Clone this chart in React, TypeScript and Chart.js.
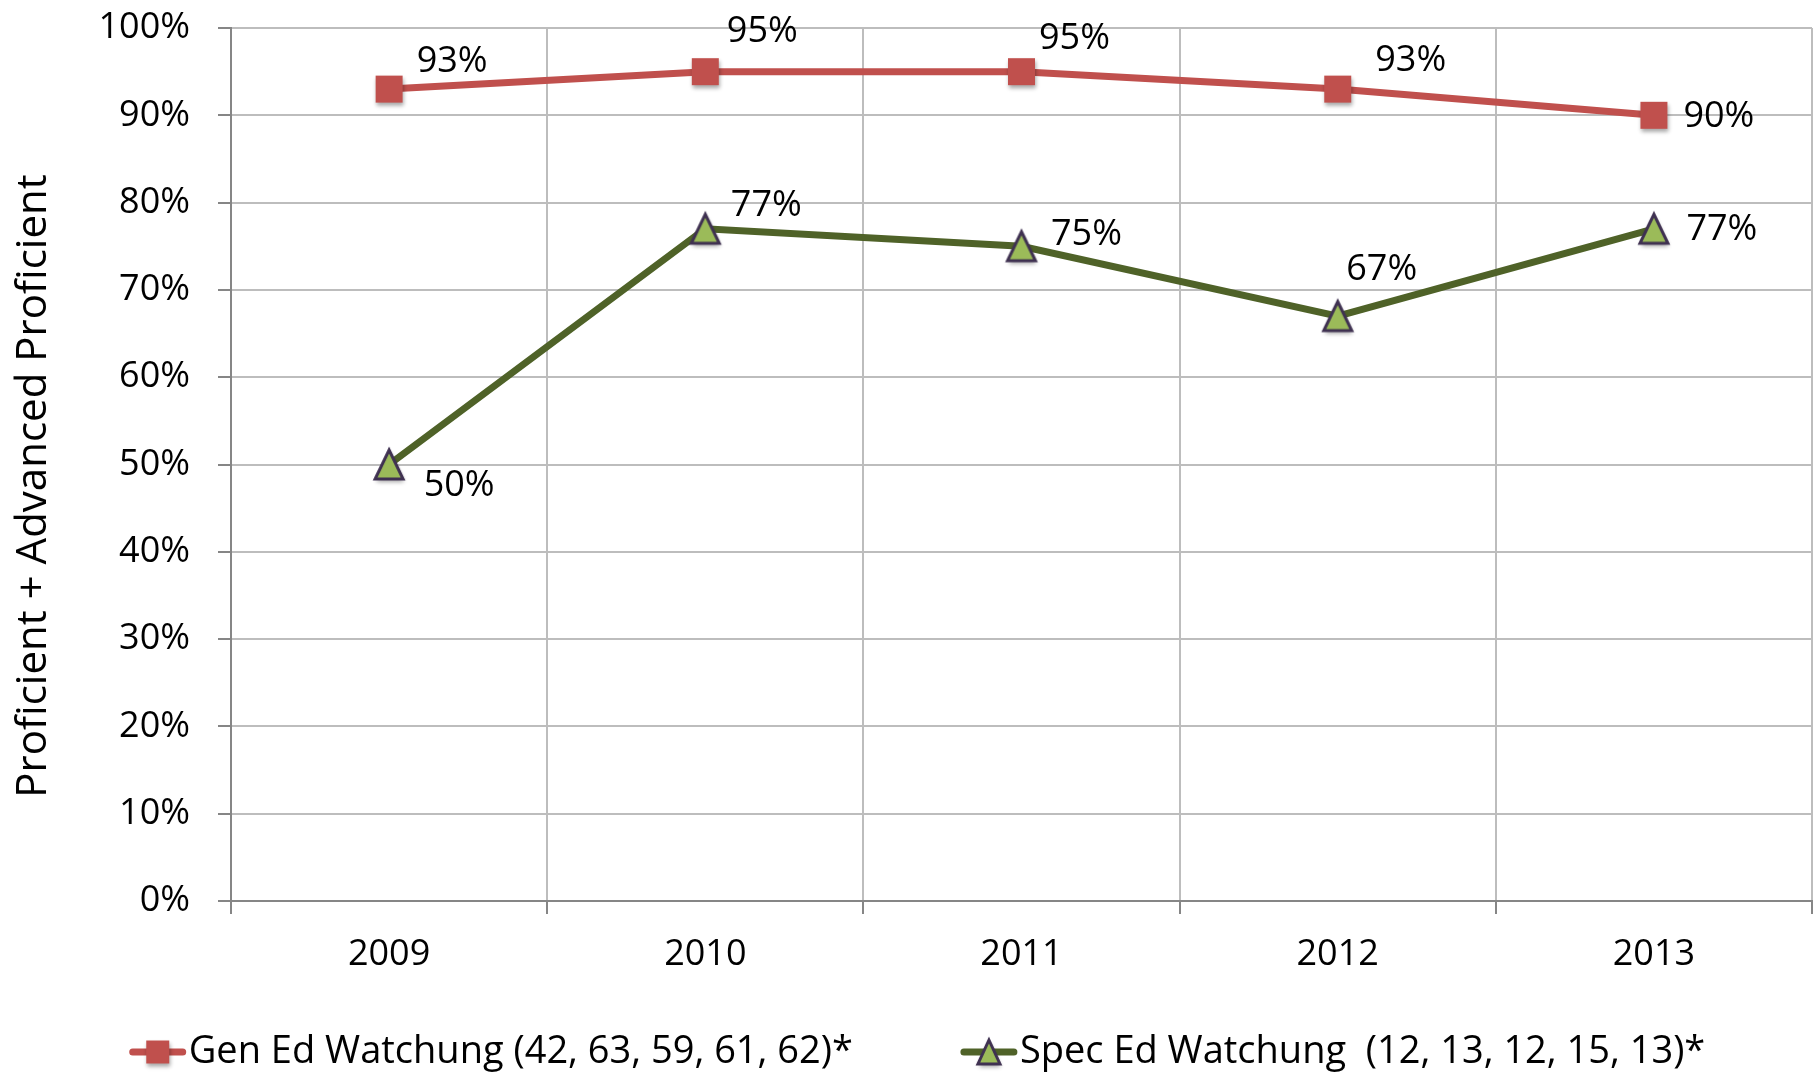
import React, { useEffect, useRef } from 'react';
import { Chart, registerables } from 'chart.js';

Chart.register(...registerables);

// ---- Data ----
const years = ['2009', '2010', '2011', '2012', '2013'];
const genEdValues = [93, 95, 95, 93, 90];
const specEdValues = [50, 77, 75, 67, 77];
const genEdName = 'Gen Ed Watchung (42, 63, 59, 61, 62)*';
const specEdName = 'Spec Ed Watchung  (12, 13, 12, 15, 13)*';
const yAxisTitle = 'Proficient + Advanced Proficient';
const yMin = 0;
const yMax = 100;
const yStep = 10;

// ---- Label placement (pixel offsets from each point) ----
const genEdLabelOffsets = [[63, -27], [57, -40], [53, -33], [73, -28], [65, 1]];
const specEdLabelOffsets = [[70, 21], [61, -23], [65, -12], [44, -46], [68, 1]];

// ---- Styles ----
const FONT = '"Open Sans", "DejaVu Sans", sans-serif';
const RED = '#C0504D';
const GREEN_LINE = '#4F6228';
const GREEN_FILL = '#9BBB59';
const PURPLE = '#3F3151';
const GRID = '#BDBDBD';
const AXIS = '#868686';

function makeSquare(side: number): HTMLCanvasElement {
  const pad = 8;
  const c = document.createElement('canvas');
  c.width = side + pad * 2;
  c.height = side + pad * 2;
  const g = c.getContext('2d')!;
  g.shadowColor = 'rgba(0,0,0,0.35)';
  g.shadowBlur = 4;
  g.shadowOffsetX = 1;
  g.shadowOffsetY = 3;
  g.fillStyle = RED;
  g.fillRect(pad, pad, side, side);
  return c;
}

function makeTriangle(w: number, h: number): HTMLCanvasElement {
  const pad = 8;
  const c = document.createElement('canvas');
  c.width = w + pad * 2;
  c.height = h + pad * 2;
  const g = c.getContext('2d')!;
  g.shadowColor = 'rgba(0,0,0,0.35)';
  g.shadowBlur = 4;
  g.shadowOffsetX = 1;
  g.shadowOffsetY = 3;
  g.beginPath();
  g.moveTo(pad + w / 2, pad);
  g.lineTo(pad + w, pad + h);
  g.lineTo(pad, pad + h);
  g.closePath();
  g.fillStyle = GREEN_FILL;
  g.fill();
  g.shadowColor = 'transparent';
  g.lineWidth = 3;
  g.lineJoin = 'miter';
  g.strokeStyle = PURPLE;
  g.stroke();
  return c;
}

export default function App() {
  const ref = useRef<HTMLCanvasElement | null>(null);

  useEffect(() => {
    if (!ref.current) return;
    const square = makeSquare(27);
    const triangle = makeTriangle(28, 29);
    const squareSmall = makeSquare(23);
    const triangleSmall = makeTriangle(22, 24);

    const offsetsByDataset = [genEdLabelOffsets, specEdLabelOffsets];

    const dataLabels = {
      id: 'dataLabels',
      afterDatasetsDraw(chart: any) {
        const ctx = chart.ctx;
        ctx.save();
        ctx.font = `36px ${FONT}`;
        ctx.fillStyle = '#000';
        ctx.textAlign = 'center';
        ctx.textBaseline = 'middle';
        chart.data.datasets.forEach((ds: any, i: number) => {
          const meta = chart.getDatasetMeta(i);
          const offs = offsetsByDataset[i];
          meta.data.forEach((pt: any, j: number) => {
            ctx.fillText(ds.data[j] + '%', pt.x + offs[j][0], pt.y + offs[j][1]);
          });
        });
        ctx.restore();
      },
    };

    const yTitle = {
      id: 'yTitle',
      afterDraw(chart: any) {
        const ctx = chart.ctx;
        ctx.save();
        ctx.font = `42px ${FONT}`;
        ctx.fillStyle = '#000';
        ctx.textAlign = 'center';
        ctx.textBaseline = 'middle';
        ctx.translate(34, 486);
        ctx.rotate(-Math.PI / 2);
        ctx.fillText(yAxisTitle, 0, 0);
        ctx.restore();
      },
    };

    const legend = {
      id: 'customLegend',
      afterDraw(chart: any) {
        const ctx = chart.ctx;
        ctx.save();
        ctx.font = `38px ${FONT}`;
        ctx.textBaseline = 'middle';
        ctx.textAlign = 'left';
        const y = 1052;
        const markerW = 58;
        const gapText = 2;
        const gapItems = 107;
        const items = [
          { name: genEdName, color: RED, img: squareSmall },
          { name: specEdName, color: GREEN_LINE, img: triangleSmall },
        ];
        const widths = items.map((it) => ctx.measureText(it.name).width);
        const total = items.length * (markerW + gapText) + widths[0] + widths[1] + gapItems;
        let x = (chart.width - total) / 2 + 8;
        items.forEach((it, i) => {
          ctx.strokeStyle = it.color;
          ctx.lineWidth = 7;
          ctx.lineCap = 'round';
          ctx.beginPath();
          ctx.moveTo(x + 4, y);
          ctx.lineTo(x + markerW - 4, y);
          ctx.stroke();
          ctx.drawImage(it.img, x + markerW / 2 - it.img.width / 2, y - it.img.height / 2);
          ctx.fillStyle = '#000';
          ctx.fillText(it.name, x + markerW + gapText, y);
          x += markerW + gapText + widths[i] + gapItems;
        });
        ctx.restore();
      },
    };

    const chart = new Chart(ref.current, {
      type: 'line',
      data: {
        labels: years,
        datasets: [
          {
            label: genEdName,
            data: genEdValues,
            borderColor: RED,
            backgroundColor: RED,
            borderWidth: 7,
            pointStyle: square as any,
            pointRadius: 2,
            pointHitRadius: 0,
            tension: 0,
            clip: false as any,
          },
          {
            label: specEdName,
            data: specEdValues,
            borderColor: GREEN_LINE,
            backgroundColor: GREEN_FILL,
            borderWidth: 7,
            pointStyle: triangle as any,
            pointRadius: 2,
            pointHitRadius: 0,
            tension: 0,
            clip: false as any,
          },
        ],
      },
      options: {
        animation: false,
        responsive: true,
        maintainAspectRatio: false,
        layout: { autoPadding: false, padding: { top: 28, right: 6, left: 0, bottom: 0 } },
        plugins: {
          legend: { display: false },
          tooltip: { enabled: false },
        },
        scales: {
          x: {
            offset: true,
            grid: { offset: true, color: GRID, lineWidth: 2, tickLength: 13, tickColor: AXIS, tickWidth: 2 },
            border: { color: AXIS, width: 2 },
            ticks: { font: { family: FONT, size: 36 }, color: '#000', padding: 19, maxRotation: 0 },
            afterFit: (s: any) => {
              s.height = 173;
              s.paddingLeft = 0;
              s.paddingRight = 0;
            },
          },
          y: {
            min: yMin,
            max: yMax,
            grid: { color: GRID, lineWidth: 2, tickLength: 13, tickColor: AXIS, tickWidth: 2 },
            border: { color: AXIS, width: 2 },
            ticks: {
              stepSize: yStep,
              font: { family: FONT, size: 36 },
              color: '#000',
              padding: 28,
              callback: (v: any) => v + '%',
            },
            afterFit: (s: any) => {
              s.width = 231;
              s.paddingTop = 0;
              s.paddingBottom = 0;
            },
          },
        },
      },
      plugins: [dataLabels, yTitle, legend],
    });
    return () => chart.destroy();
  }, []);

  return (
    <div style={{ position: 'fixed', left: 0, top: 0, width: 1818, height: 1074, background: '#fff' }}>
      <canvas ref={ref} />
    </div>
  );
}
